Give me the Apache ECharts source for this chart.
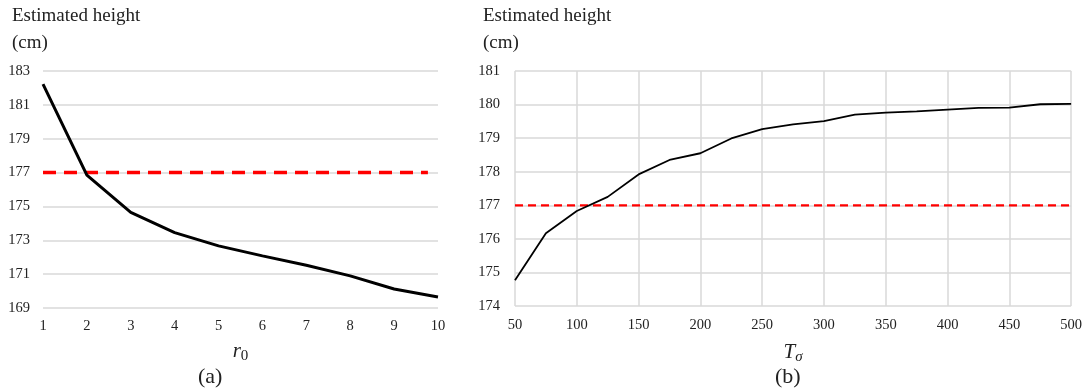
<!DOCTYPE html>
<html>
<head>
<meta charset="utf-8">
<script src="https://cdn.jsdelivr.net/npm/echarts@6/dist/echarts.min.js"></script>
<style>
  html, body { margin: 0; padding: 0; background: #fff; }
  #chart { width: 1085px; height: 392px; }
</style>
</head>
<body>
<div id="chart"></div>
<script>
// panel (a): estimated height vs r0
const r0Values = [1, 2, 3, 4, 5, 6, 7, 8, 9, 10]
const heightA = [182.22, 176.85, 174.65, 173.45, 172.67, 172.08, 171.53, 170.9, 170.12, 169.65]
// panel (b): estimated height vs T_sigma
const tSigma = [50, 75, 100, 125, 150, 175, 200, 225, 250, 275, 300, 325, 350, 375, 400, 425, 450, 475, 500]
const heightB = [174.77, 176.17, 176.83, 177.25, 177.92, 178.35, 178.55, 178.99, 179.27, 179.41,
  179.51, 179.7, 179.76, 179.8, 179.85, 179.9, 179.91, 180.01, 180.02]
const trueHeight = 177

const serif = '"Liberation Serif", "DejaVu Serif", serif'
const gridColor = '#d9d9d9'
const labelStyle = { color: '#222', fontFamily: serif, fontSize: 14.5 }

const chart = echarts.init(document.getElementById('chart'))

const axisName = (main, sub) => ({
  name: `{i|${main}}{s|${sub}}`,
  nameLocation: 'middle',
  nameGap: 31,
  nameTextStyle: {
    rich: {
      i: { fontFamily: serif, fontStyle: 'italic', fontSize: 21, color: '#222' },
      s: { fontFamily: serif, fontStyle: sub === 'σ' ? 'italic' : 'normal', fontSize: 15, color: '#222', padding: [10, 0, 0, 0] }
    }
  }
})

chart.setOption({
  animation: false,
  grid: [
    { left: 43, top: 71, width: 395, height: 237 },
    { left: 515, top: 71, width: 557, height: 235 }
  ],
  xAxis: [
    Object.assign({
      gridIndex: 0, type: 'value', min: 1, max: 10, interval: 1,
      axisLine: { show: false }, axisTick: { show: false },
      splitLine: { show: false },
      axisLabel: Object.assign({ margin: 11 }, labelStyle)
    }, axisName('r', '0')),
    Object.assign({
      gridIndex: 1, type: 'value', min: 50, max: 500, interval: 50,
      axisLine: { show: false }, axisTick: { show: false },
      splitLine: { show: true, lineStyle: { color: gridColor, width: 1.5 } },
      axisLabel: Object.assign({ margin: 12 }, labelStyle)
    }, axisName('T', 'σ'), { nameGap: 34 })
  ],
  yAxis: [
    {
      gridIndex: 0, type: 'value', min: 169, max: 183, interval: 2,
      axisLine: { show: false }, axisTick: { show: false },
      splitLine: { lineStyle: { color: gridColor, width: 1.5 } },
      axisLabel: Object.assign({ margin: 13 }, labelStyle)
    },
    {
      gridIndex: 1, type: 'value', min: 174, max: 181, interval: 1,
      axisLine: { show: false }, axisTick: { show: false },
      splitLine: { lineStyle: { color: gridColor, width: 1.5 } },
      axisLabel: Object.assign({ margin: 15 }, labelStyle)
    }
  ],
  series: [
    {
      type: 'line', xAxisIndex: 0, yAxisIndex: 0,
      data: [[r0Values[0], trueHeight], [r0Values[r0Values.length - 1] - 0.23, trueHeight]],
      symbol: 'none',
      lineStyle: { color: '#ff0000', width: 3.5, type: [13, 8] }
    },
    {
      type: 'line', xAxisIndex: 0, yAxisIndex: 0,
      data: r0Values.map((x, i) => [x, heightA[i]]),
      symbol: 'none',
      lineStyle: { color: '#000', width: 3 }
    },
    {
      type: 'line', xAxisIndex: 1, yAxisIndex: 1,
      data: [[tSigma[0], trueHeight], [tSigma[tSigma.length - 1], trueHeight]],
      symbol: 'none',
      lineStyle: { color: '#ff0000', width: 2.2, type: [8, 5] }
    },
    {
      type: 'line', xAxisIndex: 1, yAxisIndex: 1,
      data: tSigma.map((x, i) => [x, heightB[i]]),
      symbol: 'none',
      lineStyle: { color: '#000', width: 1.8 }
    }
  ],
  graphic: [
    { type: 'text', left: 12, top: 7, style: { text: 'Estimated height', font: `19px ${serif}`, fill: '#222' } },
    { type: 'text', left: 12, top: 34, style: { text: '(cm)', font: `19px ${serif}`, fill: '#222' } },
    { type: 'text', left: 483, top: 7, style: { text: 'Estimated height', font: `19px ${serif}`, fill: '#222' } },
    { type: 'text', left: 483, top: 34, style: { text: '(cm)', font: `19px ${serif}`, fill: '#222' } },
    { type: 'text', left: 198, top: 366, style: { text: '(a)', font: `22px ${serif}`, fill: '#222' } },
    { type: 'text', left: 775, top: 366, style: { text: '(b)', font: `22px ${serif}`, fill: '#222' } }
  ]
})
</script>
</body>
</html>
